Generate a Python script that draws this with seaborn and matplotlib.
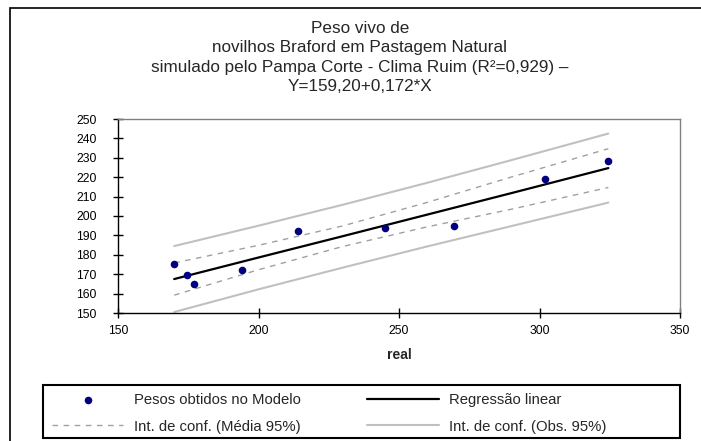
import numpy as np
import pandas as pd
import matplotlib
matplotlib.use("Agg")
import matplotlib.pyplot as plt
from matplotlib.patches import Rectangle
import seaborn as sns

# dados
real = [170, 174.5, 177, 194, 214, 245, 269.5, 302, 324.5]
modelo = [175.5, 169.5, 165, 172, 192.5, 194, 195, 219, 228.5]

x_linha = [170, 200, 230, 260, 290, 324.5]
regressao = [167.5, 178.6, 189.6, 200.7, 211.8, 224.7]
media_sup = [175.8, 184.9, 194.9, 207.0, 220.1, 234.7]
media_inf = [159.2, 172.3, 184.3, 194.4, 203.5, 214.7]
obs_sup = [184.5, 195.0, 205.8, 217.1, 228.8, 242.5]
obs_inf = [150.5, 162.2, 173.4, 184.3, 194.8, 206.9]

titulo = ("Peso vivo de\nnovilhos Braford em Pastagem Natural\n"
          "simulado pelo Pampa Corte - Clima Ruim (R²=0,929) –\nY=159,20+0,172*X")

sns.set_style("white")
plt.rcParams['font.family'] = ['Liberation Sans', 'DejaVu Sans']

df_pts = pd.DataFrame({'real': real, 'modelo': modelo})
df_lin = pd.DataFrame({'x': x_linha, 'reg': regressao, 'ms': media_sup, 'mi': media_inf,
                       'os': obs_sup, 'oi': obs_inf})

fig = plt.figure(figsize=(7.01, 4.41), dpi=100)
ax = fig.add_axes([118 / 701, 1 - 313 / 441, 562 / 701, 194 / 441])

# moldura da area do grafico
fig.patches.append(Rectangle((10 / 701, -0.1), 1.2, (441 - 8) / 441 + 0.1, transform=fig.transFigure,
                             fill=False, edgecolor='black', linewidth=1.2))

cinza = '#c0c0c0'
sns.lineplot(data=df_lin, x='x', y='os', ax=ax, color=cinza, linewidth=1.5, label='Int. de conf. (Obs. 95%)')
sns.lineplot(data=df_lin, x='x', y='oi', ax=ax, color=cinza, linewidth=1.5)
sns.lineplot(data=df_lin, x='x', y='ms', ax=ax, color='#a0a0a0', linewidth=1,
             label='Int. de conf. (Média 95%)')
ax.lines[-1].set_dashes((4, 4))
sns.lineplot(data=df_lin, x='x', y='mi', ax=ax, color='#a0a0a0', linewidth=1)
ax.lines[-1].set_dashes((4, 4))
sns.lineplot(data=df_lin, x='x', y='reg', ax=ax, color='black', linewidth=1.6, label='Regressão linear')
sns.scatterplot(data=df_pts, x='real', y='modelo', ax=ax, color='#000080', s=30, marker='o',
                edgecolor='#000080', linewidth=0, label='Pesos obtidos no Modelo', zorder=5)

ax.set_xlim(150, 350)
ax.set_ylim(150, 250)
ax.set_xticks(range(150, 351, 50))
ax.set_yticks(range(150, 251, 10))
ax.tick_params(bottom=True, left=True, direction='inout', length=7, width=1, labelsize=8.7,
               colors='black')
ax.tick_params(axis='y', pad=12)
ax.tick_params(axis='x', pad=5)
for s in ['left', 'bottom']:
    ax.spines[s].set_color('black')
    ax.spines[s].set_linewidth(1)
for s in ['top', 'right']:
    ax.spines[s].set_color('#808080')
    ax.spines[s].set_linewidth(1)
ax.set_xlabel('real', fontsize=10, fontweight='bold', labelpad=8)
ax.set_ylabel('')

fig.text(360 / 701, 1 - 21 / 441, titulo, ha='center', va='top', fontsize=12.3, linespacing=1.36)

h, l = ax.get_legend_handles_labels()
ax.get_legend().remove()
d = dict(zip(l, h))
ordem = ['Pesos obtidos no Modelo', 'Int. de conf. (Média 95%)', 'Regressão linear', 'Int. de conf. (Obs. 95%)']
leg = fig.legend([d[k] for k in ordem], ordem, ncol=2, loc='upper left',
                 bbox_to_anchor=(52 / 701, 1 - 393 / 441), frameon=False, fontsize=10.7,
                 handlelength=4.8, handletextpad=0.7, columnspacing=4.5,
                 borderaxespad=0, labelspacing=0.85, borderpad=0)
fig.patches.append(Rectangle((43 / 701, 1 - 438 / 441), 637 / 701, 53 / 441, transform=fig.transFigure,
                             fill=False, edgecolor='black', linewidth=1.5))

fig.savefig('out.png', dpi=100)
